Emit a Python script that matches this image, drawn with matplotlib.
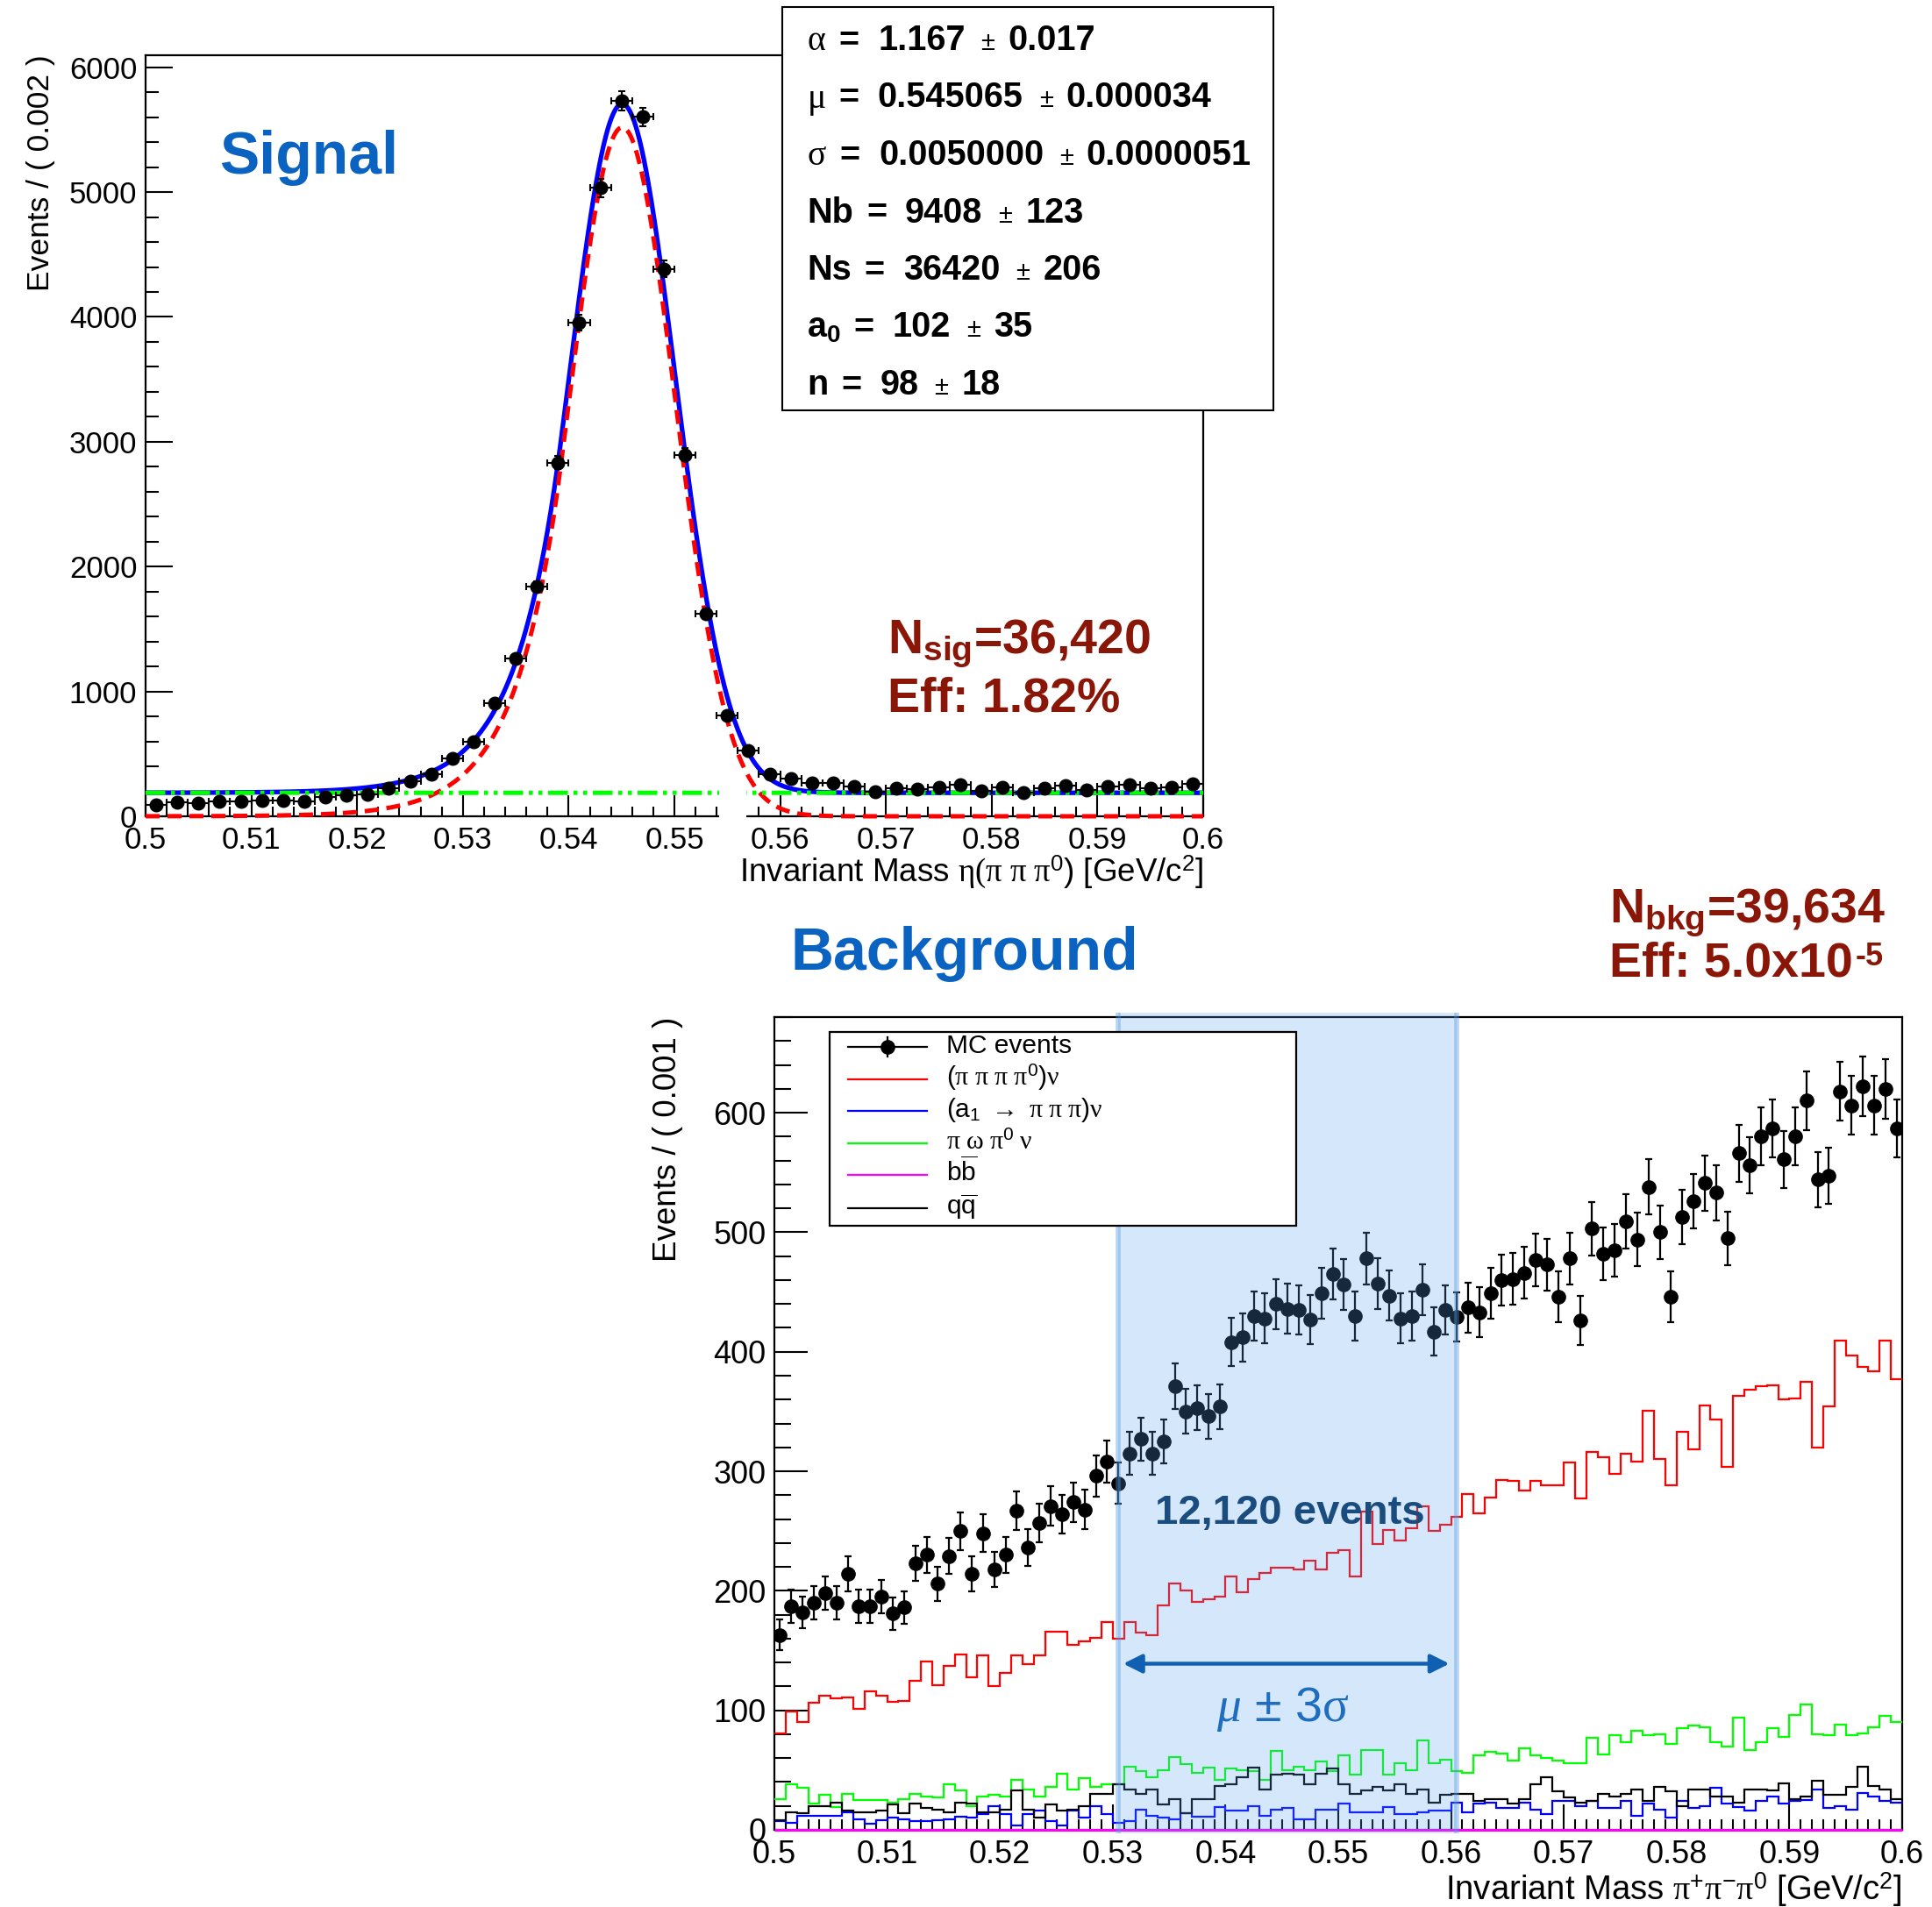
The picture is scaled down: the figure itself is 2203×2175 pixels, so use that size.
import numpy as np
import matplotlib
matplotlib.use("Agg")
import matplotlib.pyplot as plt
from matplotlib.patches import Rectangle
from matplotlib.ticker import MultipleLocator, FuncFormatter

plt.rcParams["font.family"] = ["Liberation Sans", "DejaVu Sans"]
plt.rcParams["mathtext.fontset"] = "custom"
plt.rcParams["mathtext.rm"] = "Liberation Sans"
plt.rcParams["mathtext.it"] = "Liberation Serif:italic"
plt.rcParams["mathtext.bf"] = "Liberation Sans:bold"
plt.rcParams["mathtext.sf"] = "Liberation Serif"   # greek letters in a serif face

# ---------------- signal MC, eta -> pi pi pi0 (50 bins of 0.002)
sig_edges = np.linspace(0.5, 0.6, 51)
sig_counts = np.array([
    90, 112, 103, 121, 116, 125, 125, 121, 157, 170,
    179, 224, 282, 336, 461, 600, 909, 1267, 1840, 2834,
    3954, 5033, 5731, 5602, 4384, 2897, 1625, 810, 524, 339,
    304, 264, 269, 238, 194, 222, 215, 234, 250, 205,
    234, 187, 222, 245, 210, 238, 252, 222, 229, 257])

# fit result: crystal ball + flat background
cb_alpha = 1.167
cb_mu = 0.545065
cb_sigma = 0.0050000
cb_n = 98
fit_nb = 9408
fit_ns = 36420
fit_rows = [
    (r"$\mathsf{\alpha}$", "1.167", "0.017"),
    (r"$\mathsf{\mu}$", "0.545065", "0.000034"),
    (r"$\mathsf{\sigma}$", "0.0050000", "0.0000051"),
    ("Nb", "9408", "123"),
    ("Ns", "36420", "206"),
    (r"$\mathbf{a_0}$", "102", "35"),
    ("n", "98", "18"),
]

# ---------------- background MC (100 bins of 0.001)
bkg_edges = np.linspace(0.5, 0.6, 101)
mc_counts = np.array([
    163, 187, 182, 190, 198, 190, 214, 187, 187, 195,
    181, 186, 223, 230, 206, 229, 250, 214, 248, 218,
    230, 267, 236, 257, 271, 264, 274, 268, 296, 308,
    290, 315, 327, 315, 325, 371, 350, 353, 346, 354,
    408, 412, 430, 428, 440, 436, 435, 427, 449, 465,
    456, 430, 478, 457, 447, 428, 430, 452, 417, 435,
    429, 437, 433, 449, 460, 461, 466, 477, 473, 446,
    478, 426, 503, 482, 485, 509, 494, 538, 500, 446,
    513, 526, 541, 533, 495, 566, 556, 580, 587, 561,
    580, 610, 544, 547, 618, 606, 622, 606, 620, 587])
pipipipi0_counts = np.array([
    81, 99, 90, 106, 112, 110, 111, 101, 116, 112,
    107, 108, 125, 141, 121, 137, 147, 128, 146, 120,
    131, 146, 139, 146, 166, 166, 155, 158, 161, 174,
    160, 174, 165, 163, 188, 206, 200, 191, 193, 195,
    212, 199, 210, 215, 219, 219, 218, 225, 218, 232,
    234, 212, 266, 239, 251, 242, 252, 271, 250, 255,
    262, 281, 265, 278, 293, 292, 284, 292, 288, 288,
    307, 277, 316, 312, 298, 315, 308, 351, 310, 288,
    333, 318, 355, 343, 304, 363, 368, 371, 372, 360,
    361, 375, 320, 354, 409, 397, 387, 384, 409, 377])
a1_counts = np.array([
    7, 6, 12, 12, 12, 12, 15, 9, 5, 8,
    10, 9, 7, 7, 8, 9, 11, 10, 13, 20,
    13, 4, 13, 16, 7, 4, 16, 10, 20, 13,
    6, 7, 17, 12, 10, 9, 14, 11, 11, 19,
    16, 16, 20, 12, 17, 18, 9, 9, 17, 17,
    22, 15, 15, 15, 19, 13, 13, 15, 16, 16,
    23, 15, 22, 23, 18, 18, 23, 17, 13, 24,
    24, 20, 24, 18, 18, 24, 12, 22, 17, 10,
    24, 18, 20, 35, 22, 19, 16, 24, 28, 22,
    24, 25, 34, 18, 20, 17, 31, 28, 24, 23])
piomega_counts = np.array([
    26, 38, 35, 22, 29, 19, 30, 25, 25, 25,
    23, 26, 30, 28, 27, 38, 33, 20, 28, 29,
    28, 42, 34, 28, 36, 47, 34, 43, 36, 38,
    38, 53, 49, 44, 50, 61, 55, 48, 52, 42,
    51, 50, 49, 42, 66, 50, 53, 50, 57, 49,
    62, 46, 67, 67, 46, 56, 50, 75, 56, 59,
    49, 48, 62, 65, 64, 58, 68, 62, 60, 58,
    56, 56, 77, 63, 79, 73, 83, 79, 80, 72,
    85, 87, 86, 73, 70, 94, 67, 73, 85, 78,
    96, 105, 80, 79, 88, 79, 81, 86, 95, 90])
bb_counts = np.zeros(100)
qq_counts = np.array([
    8, 15, 14, 20, 20, 23, 16, 15, 15, 16,
    21, 14, 22, 18, 17, 15, 23, 22, 15, 15,
    17, 33, 17, 10, 21, 16, 17, 20, 30, 30,
    38, 34, 30, 34, 21, 26, 14, 26, 26, 37,
    38, 44, 52, 34, 46, 47, 46, 38, 47, 51,
    38, 30, 33, 36, 33, 38, 30, 34, 23, 29,
    30, 30, 24, 26, 26, 22, 26, 38, 44, 32,
    27, 23, 24, 30, 28, 30, 34, 24, 36, 32,
    20, 34, 34, 28, 28, 23, 34, 34, 33, 39,
    26, 28, 41, 29, 29, 36, 53, 37, 34, 26])

legend_labels = [
    "MC events",
    r"($\mathsf{\pi\ \pi\ \pi\ \pi}^{0}$)$\mathsf{\nu}$",
    r"(a$_{1}$ $\mathrm{\rightarrow}$ $\mathsf{\pi\ \pi\ \pi}$)$\mathsf{\nu}$",
    r"$\mathsf{\pi\ \omega\ \pi}^{0}\ \mathsf{\nu}$",
    r"b$\overline{\mathrm{b}}$",
    r"q$\overline{\mathrm{q}}$",
]
legend_colors = ["black", "#ff0000", "#0000ff", "#00ff00", "#ff00ff", "black"]

window = (0.5305, 0.5605)   # mass window drawn on the background plot

W, H = 2203, 2175
dark_red = "#8a1608"
title_blue = "#0b63c1"


def crystal_ball(x):
    t = (x - cb_mu) / cb_sigma
    a = abs(cb_alpha)
    core = np.exp(-0.5 * t ** 2)
    tail = np.exp(-0.5 * a * a) * ((cb_n / a) / (cb_n / a - a - t)) ** cb_n
    return np.where(t > -a, core, tail)


def plain_ticks(ax):
    fmt = FuncFormatter(lambda v, _: f"{v:g}")
    ax.xaxis.set_major_formatter(fmt)
    ax.yaxis.set_major_formatter(fmt)
    for s in ax.spines.values():
        s.set_linewidth(1.6)


fig = plt.figure(figsize=(W / 100, H / 100), dpi=100)
fig.patch.set_facecolor("white")
renderer = fig.canvas.get_renderer()

# ======================= signal plot
ax1 = fig.add_axes([166 / W, 1 - 931 / H, 1206 / W, 868.5 / H])
bw = sig_edges[1] - sig_edges[0]
centers = 0.5 * (sig_edges[:-1] + sig_edges[1:])

xf = np.linspace(0.5, 0.6, 2001)
cb = crystal_ball(xf)
sig_curve = fit_ns * bw * cb / np.trapezoid(cb, xf)
bkg_curve = np.full_like(xf, fit_nb * bw / 0.1)

ax1.plot(xf, sig_curve + bkg_curve, color="#0000ff", lw=3.8, zorder=3)
ax1.plot(xf, sig_curve, color="#ff0000", lw=3.6, ls=(0, (3.2, 1.8)), zorder=4, clip_on=False)
ax1.plot(xf, bkg_curve, color="#00ff00", lw=3.6, ls=(0, (4.5, 1.3, 0.9, 1.3, 0.9, 1.3)), zorder=4)
ax1.errorbar(centers, sig_counts, xerr=bw / 2, yerr=np.sqrt(sig_counts), fmt="o",
             color="black", ms=10.5, elinewidth=1.5, capsize=3, capthick=1.5, zorder=5)

ax1.set_xlim(0.5, 0.6)
ax1.set_ylim(0, 6100)
ax1.xaxis.set_major_locator(MultipleLocator(0.01))
ax1.xaxis.set_minor_locator(MultipleLocator(0.002))
ax1.yaxis.set_major_locator(MultipleLocator(1000))
ax1.yaxis.set_minor_locator(MultipleLocator(200))
ax1.tick_params(which="both", direction="in", width=1.5, labelsize=25)
ax1.tick_params(axis="x", which="major", length=17, pad=8)
ax1.tick_params(axis="x", which="minor", length=8)
ax1.tick_params(axis="y", which="major", length=22, pad=7)
ax1.tick_params(axis="y", which="minor", length=11)
plain_ticks(ax1)
ax1.set_xlabel(r"Invariant Mass $\mathsf{\eta(\pi\ \pi\ \pi}^{0}$) [GeV/c$^{2}$]",
               fontsize=26.5, loc="right")
ax1.xaxis.set_label_coords(1.0, -0.05)
ax1.set_ylabel("Events / ( 0.002 )", fontsize=25.5, loc="top")
ax1.yaxis.set_label_coords(-0.085, 1.0)

# break in the axis around 0.555
ax1.add_patch(Rectangle((0.5542, -140), 0.0026, 350, fc="white", ec="none",
                        zorder=10, clip_on=False))

fig.text(250 / W, 1 - 198 / H, "Signal", fontsize=49, fontweight="bold", color=title_blue)
fig.text(1012 / W, 1 - 745 / H, r"$\mathbf{N_{sig}}$=36,420", fontsize=40,
         fontweight="bold", color=dark_red)
fig.text(1012 / W, 1 - 812 / H, "Eff: 1.82%", fontsize=40, fontweight="bold", color=dark_red)

# fit parameter box
fig.add_artist(Rectangle((892 / W, 1 - 468 / H), 560 / W, 460 / H, transform=fig.transFigure,
                         fc="white", ec="black", lw=1.5, zorder=20))
bold = dict(fontsize=28.5, fontweight="bold")
pm = dict(fontsize=21)
for row, (label, value, error) in enumerate(fit_rows):
    y = 1 - (57 + 65.5 * row) / H
    x = 920 / W
    for text, style, gap in [(label, bold, 15), ("=", bold, 21), (value, bold, 18),
                             ("±", pm, 15), (error, bold, 0)]:
        t = fig.text(x, y, text, va="baseline", zorder=21, **style)
        x += (t.get_window_extent(renderer).width + gap) / W

# ======================= background plot
ax2 = fig.add_axes([883 / W, 1 - 2087 / H, 1286 / W, 927 / H])
bcent = 0.5 * (bkg_edges[:-1] + bkg_edges[1:])

ax2.stairs(pipipipi0_counts, bkg_edges, color="#ff0000", lw=1.6, baseline=None, zorder=3)
ax2.stairs(a1_counts, bkg_edges, color="#0000ff", lw=1.6, baseline=None, zorder=3)
ax2.stairs(piomega_counts, bkg_edges, color="#00ff00", lw=1.6, baseline=None, zorder=3)
ax2.stairs(bb_counts, bkg_edges, color="#ff00ff", lw=2.2, baseline=None, zorder=4, clip_on=False)
ax2.stairs(qq_counts, bkg_edges, color="black", lw=1.6, baseline=None, zorder=3)
ax2.errorbar(bcent, mc_counts, yerr=np.sqrt(mc_counts), fmt="o", color="black", ms=11,
             elinewidth=1.6, capsize=2.8, capthick=1.6, zorder=5)

ax2.set_xlim(0.5, 0.6)
ax2.set_ylim(0, 680)
ax2.xaxis.set_major_locator(MultipleLocator(0.01))
ax2.xaxis.set_minor_locator(MultipleLocator(0.001))
ax2.yaxis.set_major_locator(MultipleLocator(100))
ax2.yaxis.set_minor_locator(MultipleLocator(20))
ax2.tick_params(which="both", direction="in", width=1.5, labelsize=26)
ax2.tick_params(axis="x", which="major", length=21, pad=8)
ax2.tick_params(axis="x", which="minor", length=9)
ax2.tick_params(axis="y", which="major", length=27, pad=7)
ax2.tick_params(axis="y", which="minor", length=14)
plain_ticks(ax2)
ax2.set_xlabel(r"Invariant Mass $\mathsf{\pi}^{+}\mathsf{\pi}^{-}\mathsf{\pi}^{0}$ [GeV/c$^{2}$]",
               fontsize=27.5, loc="right")
ax2.xaxis.set_label_coords(1.0, -0.05)
ax2.set_ylabel("Events / ( 0.001 )", fontsize=26.5, loc="top")
ax2.yaxis.set_label_coords(-0.081, 1.0)

# selection window
lo, hi = window
ax2.add_patch(Rectangle((lo, -3), hi - lo, 687, fc=(0.33, 0.64, 0.94, 0.25), ec="none",
                        zorder=8, clip_on=False))
ax2.vlines([lo, hi], -3, 684, colors=[(0.33, 0.6, 0.88, 0.42)], lw=4, zorder=8, clip_on=False)
ax2.annotate("", xy=(hi, 139), xytext=(lo, 139),
             arrowprops=dict(arrowstyle="<|-|>", color="#0f5fb3", lw=3.2,
                             mutation_scale=32, shrinkA=4, shrinkB=6), zorder=9)
ax2.text(cb_mu, 91, r"$\mu$ ± 3$\mathsf{\sigma}$", fontsize=40, color="#1f6dbe",
         ha="center", va="baseline", zorder=9)
ax2.text(0.5457, 256, "12,120 events", fontsize=34, fontweight="bold", color="#1a4c7e",
         ha="center", va="baseline", zorder=9)

# legend
ax2.add_patch(Rectangle((0.049, 0.7433), 0.414, 0.2384, transform=ax2.transAxes,
                        fc="white", ec="black", lw=1.6, zorder=30))
row_y = [0.9633, 0.9234, 0.8846, 0.8447, 0.8058, 0.7648]
for y, label, color in zip(row_y, legend_labels, legend_colors):
    ax2.plot([0.0654, 0.1354], [y, y], color=color, lw=1.6, transform=ax2.transAxes, zorder=31)
    ax2.text(0.1525, y - 0.0076, label, fontsize=21.5, va="baseline",
             transform=ax2.transAxes, zorder=31)
ax2.plot([0.1003], [row_y[0]], "o", color="black", ms=11, transform=ax2.transAxes, zorder=31)
ax2.plot([0.1003, 0.1003], [row_y[0] - 0.012, row_y[0] + 0.012], color="black", lw=1.6,
         transform=ax2.transAxes, zorder=31)

fig.text(902 / W, 1 - 1106 / H, "Background", fontsize=49, fontweight="bold", color=title_blue)
fig.text(1835 / W, 1 - 1052 / H, r"$\mathbf{N_{bkg}}$=39,634", fontsize=40,
         fontweight="bold", color=dark_red)
eff = fig.text(1835 / W, 1 - 1114 / H, "Eff: 5.0x10", fontsize=40,
               fontweight="bold", color=dark_red)
eff_w = eff.get_window_extent(renderer).width
fig.text((1835 + eff_w + 3) / W, 1 - 1101 / H, "-5", fontsize=26,
         fontweight="bold", color=dark_red)

fig.savefig("out.png", dpi=100)
